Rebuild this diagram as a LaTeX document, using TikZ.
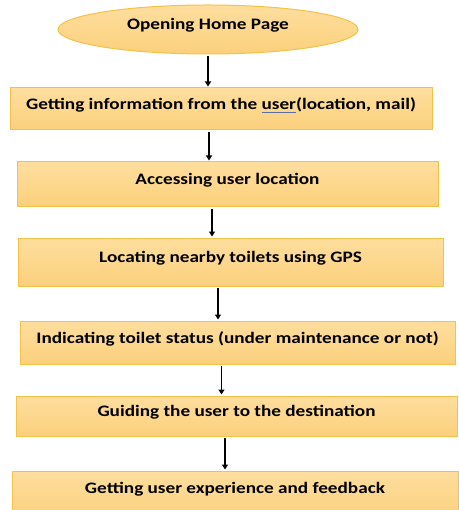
\documentclass[tikz,border=0pt]{standalone}
\usepackage{calc}
\usepackage{fontspec}
\setmainfont{Carlito}[FakeStretch=1.2]
\usetikzlibrary{arrows.meta,shapes.geometric}
\definecolor{boxtop}{RGB}{254,222,158}
\definecolor{boxbot}{RGB}{251,208,124}
\definecolor{boxline}{RGB}{246,193,72}
\definecolor{ulblue}{RGB}{90,110,160}
\begin{document}
\begin{tikzpicture}[x=1pt,y=-1pt,
  procbox/.style={rectangle, draw=boxline, line width=1pt, top color=boxtop, bottom color=boxbot, inner sep=0pt, text height=22pt, font=\bfseries\fontsize{16}{18}\selectfont},
  startnode/.style={ellipse, draw=boxline, line width=1pt, top color=boxtop, bottom color=boxbot, inner sep=0pt, text height=8pt, text depth=8pt, minimum width=300pt, minimum height=49pt, font=\bfseries\fontsize{16}{18}\selectfont},
  flow/.style={line width=1.5pt, -{Triangle[width=6pt,length=5pt]}, shorten <=1.5pt, shorten >=1pt}]
\useasboundingbox (0,0) rectangle (458,510);
\node[startnode] (home) at (208,29.5){Opening Home Page};
\node[procbox, minimum width=422pt, minimum height=42pt, text depth=20pt] (info) at (221,109){Getting information from the \rlap{\color{ulblue}\rule[-2.5pt]{\widthof{user}}{0.8pt}}user(location, mail)};
\node[procbox, minimum width=421pt, minimum height=45pt, text depth=22pt] (access) at (227.5,184.5){Accessing user location};
\node[procbox, minimum width=425pt, minimum height=48pt, text height=24pt, text depth=24pt] (locate) at (230.5,262){Locating nearby toilets using GPS};
\node[procbox, minimum width=435pt, minimum height=43pt, text depth=21pt] (status) at (237.5,342.5){Indicating toilet status (under maintenance or not)};
\node[procbox, minimum width=441pt, minimum height=40pt, text height=20pt, text depth=20pt] (guide) at (236.5,416){Guiding the user to the destination};
\node[procbox, minimum width=446pt, minimum height=50pt, text depth=27pt] (feedback) at (235,496){Getting user experience and feedback};
\draw[flow] (home.south) -- (home.south |- info.north);
\draw[flow] ([xshift=-12pt]info.south) -- ([xshift=-12pt]info.south |- access.north);
\draw[flow] ([xshift=-15.5pt]access.south) -- ([xshift=-15.5pt]access.south |- locate.north);
\draw[flow] ([xshift=-12.5pt]locate.south) -- ([xshift=-12.5pt]locate.south |- status.north);
\draw[flow] ([xshift=-16pt]status.south) -- ([xshift=-16pt]status.south |- guide.north);
\draw[flow] ([xshift=-11.5pt]guide.south) -- ([xshift=-11.5pt]guide.south |- feedback.north);
\end{tikzpicture}
\end{document}
